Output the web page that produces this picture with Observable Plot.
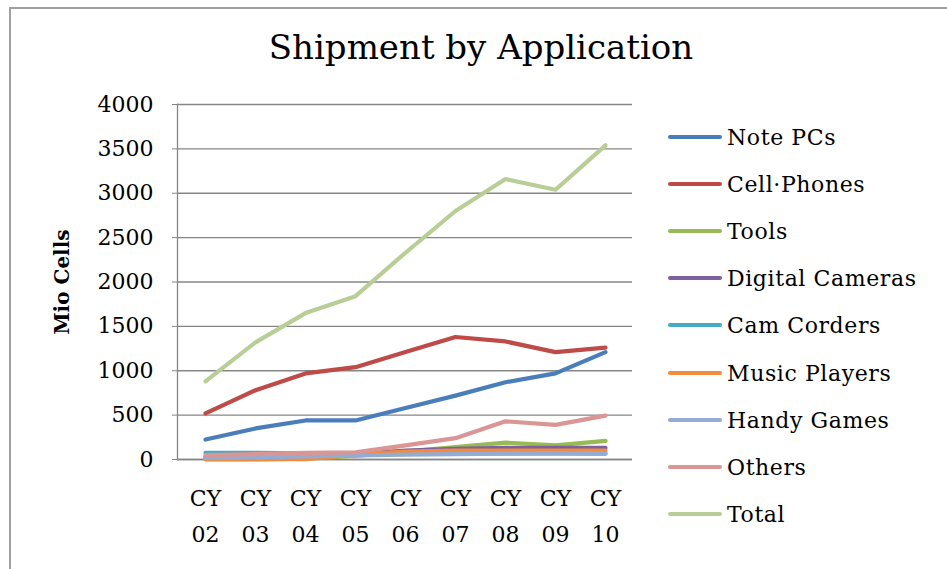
<!DOCTYPE html>
<html>
<head>
<meta charset="utf-8">
<script src="https://cdn.jsdelivr.net/npm/d3@7"></script>
<script src="https://cdn.jsdelivr.net/npm/@observablehq/plot@0.6"></script>
<style>
  html, body { margin: 0; padding: 0; background: #fff; }
  body { width: 947px; height: 569px; position: relative; overflow: hidden; font-family: "DejaVu Serif", serif; }
  #frame { position: absolute; left: 9px; top: 7px; width: 1000px; height: 700px; border: 2px solid #a0a0a0; box-sizing: border-box; }
  #title { position: absolute; left: 0; width: 962px; top: 27px; text-align: center; font-size: 34px; color: #000; }
  #ylabel { position: absolute; left: 62px; top: 282px; transform: translate(-50%, -50%) rotate(-90deg); font-weight: bold; font-size: 20px; white-space: nowrap; }
  #chart { position: absolute; left: 0; top: 0; }
  .leg { position: absolute; left: 668px; height: 24px; display: flex; align-items: center; font-size: 22px; letter-spacing: 0.6px; white-space: nowrap; }
  .leg span.sw { display: inline-block; width: 54px; height: 4px; border-radius: 2px; margin-right: 5px; }
</style>
</head>
<body>
<div id="frame"></div>
<div id="chart"></div>
<div id="title">Shipment by Application</div>
<div id="ylabel">Mio Cells</div>
<div id="legend"></div>
<script>
const categories = ["CY 02","CY 03","CY 04","CY 05","CY 06","CY 07","CY 08","CY 09","CY 10"];
const seriesNames = ["Note PCs","Cell·Phones","Tools","Digital Cameras","Cam Corders","Music Players","Handy Games","Others","Total"];
const seriesColors = ["#4a7ebb","#be4b48","#98b954","#7d60a0","#46aac5","#f38b3c","#93acd3","#d99694","#b9cd96"];
const notePCs        = [225, 350, 440, 440, 580, 720, 870, 970, 1210];
const cellPhones     = [520, 780, 970, 1040, 1210, 1380, 1330, 1210, 1260];
const tools          = [0, 0, 10, 40, 90, 140, 190, 160, 210];
const digitalCameras = [30, 40, 50, 60, 100, 120, 130, 130, 130];
const camCorders     = [75, 75, 70, 70, 70, 70, 70, 70, 65];
const musicPlayers   = [5, 5, 5, 55, 90, 100, 100, 100, 100];
const handyGames     = [15, 25, 35, 45, 55, 60, 65, 70, 70];
const others         = [50, 60, 75, 80, 160, 240, 430, 390, 495];
const total          = [880, 1320, 1650, 1840, 2330, 2800, 3160, 3040, 3540];
const yTicks = [0, 500, 1000, 1500, 2000, 2500, 3000, 3500, 4000];

const allSeries = [notePCs, cellPhones, tools, digitalCameras, camCorders, musicPlayers, handyGames, others, total];
const rows = [];
allSeries.forEach((vals, si) => vals.forEach((v, i) => rows.push({series: seriesNames[si], cat: categories[i], value: v})));

const chart = Plot.plot({
  width: 947,
  height: 569,
  marginLeft: 177,
  marginRight: 315,
  marginTop: 104,
  marginBottom: 110,
  style: {fontFamily: "DejaVu Serif, serif", fontSize: "22px", color: "#000", background: "transparent"},
  x: {type: "point", domain: categories, padding: 0.5, label: null},
  y: {domain: [0, 4000], label: null},
  color: {domain: seriesNames, range: seriesColors},
  marks: [
    Plot.gridY(yTicks, {stroke: "#868686", strokeOpacity: 1, strokeWidth: 1.3}),
    Plot.axisY(yTicks, {tickSize: 5, tickPadding: 19, stroke: "#868686", label: null, fontSize: 22, tickFormat: d => String(d)}),
    Plot.frame({anchor: "left", stroke: "#868686", strokeWidth: 1.3}),
    Plot.ruleY([0], {stroke: "#868686", strokeWidth: 1.5}),
    Plot.axisX({tickSize: 0, tickPadding: 22, fontSize: 22, lineHeight: 1.6, label: null, tickFormat: d => d.replace(" ", "\n")}),
    Plot.line(rows, {x: "cat", y: "value", z: "series", stroke: "series", strokeWidth: 4.2, strokeLinecap: "round", strokeLinejoin: "round"})
  ]
});
document.getElementById("chart").appendChild(chart);

const legend = document.getElementById("legend");
const legY = [137, 184, 231, 278, 325, 373, 420, 467, 514];
seriesNames.forEach((name, i) => {
  const d = document.createElement("div");
  d.className = "leg";
  d.style.top = (legY[i] - 12) + "px";
  d.innerHTML = `<span class="sw" style="background:${seriesColors[i]}"></span>${name}`;
  legend.appendChild(d);
});
</script>
</body>
</html>
